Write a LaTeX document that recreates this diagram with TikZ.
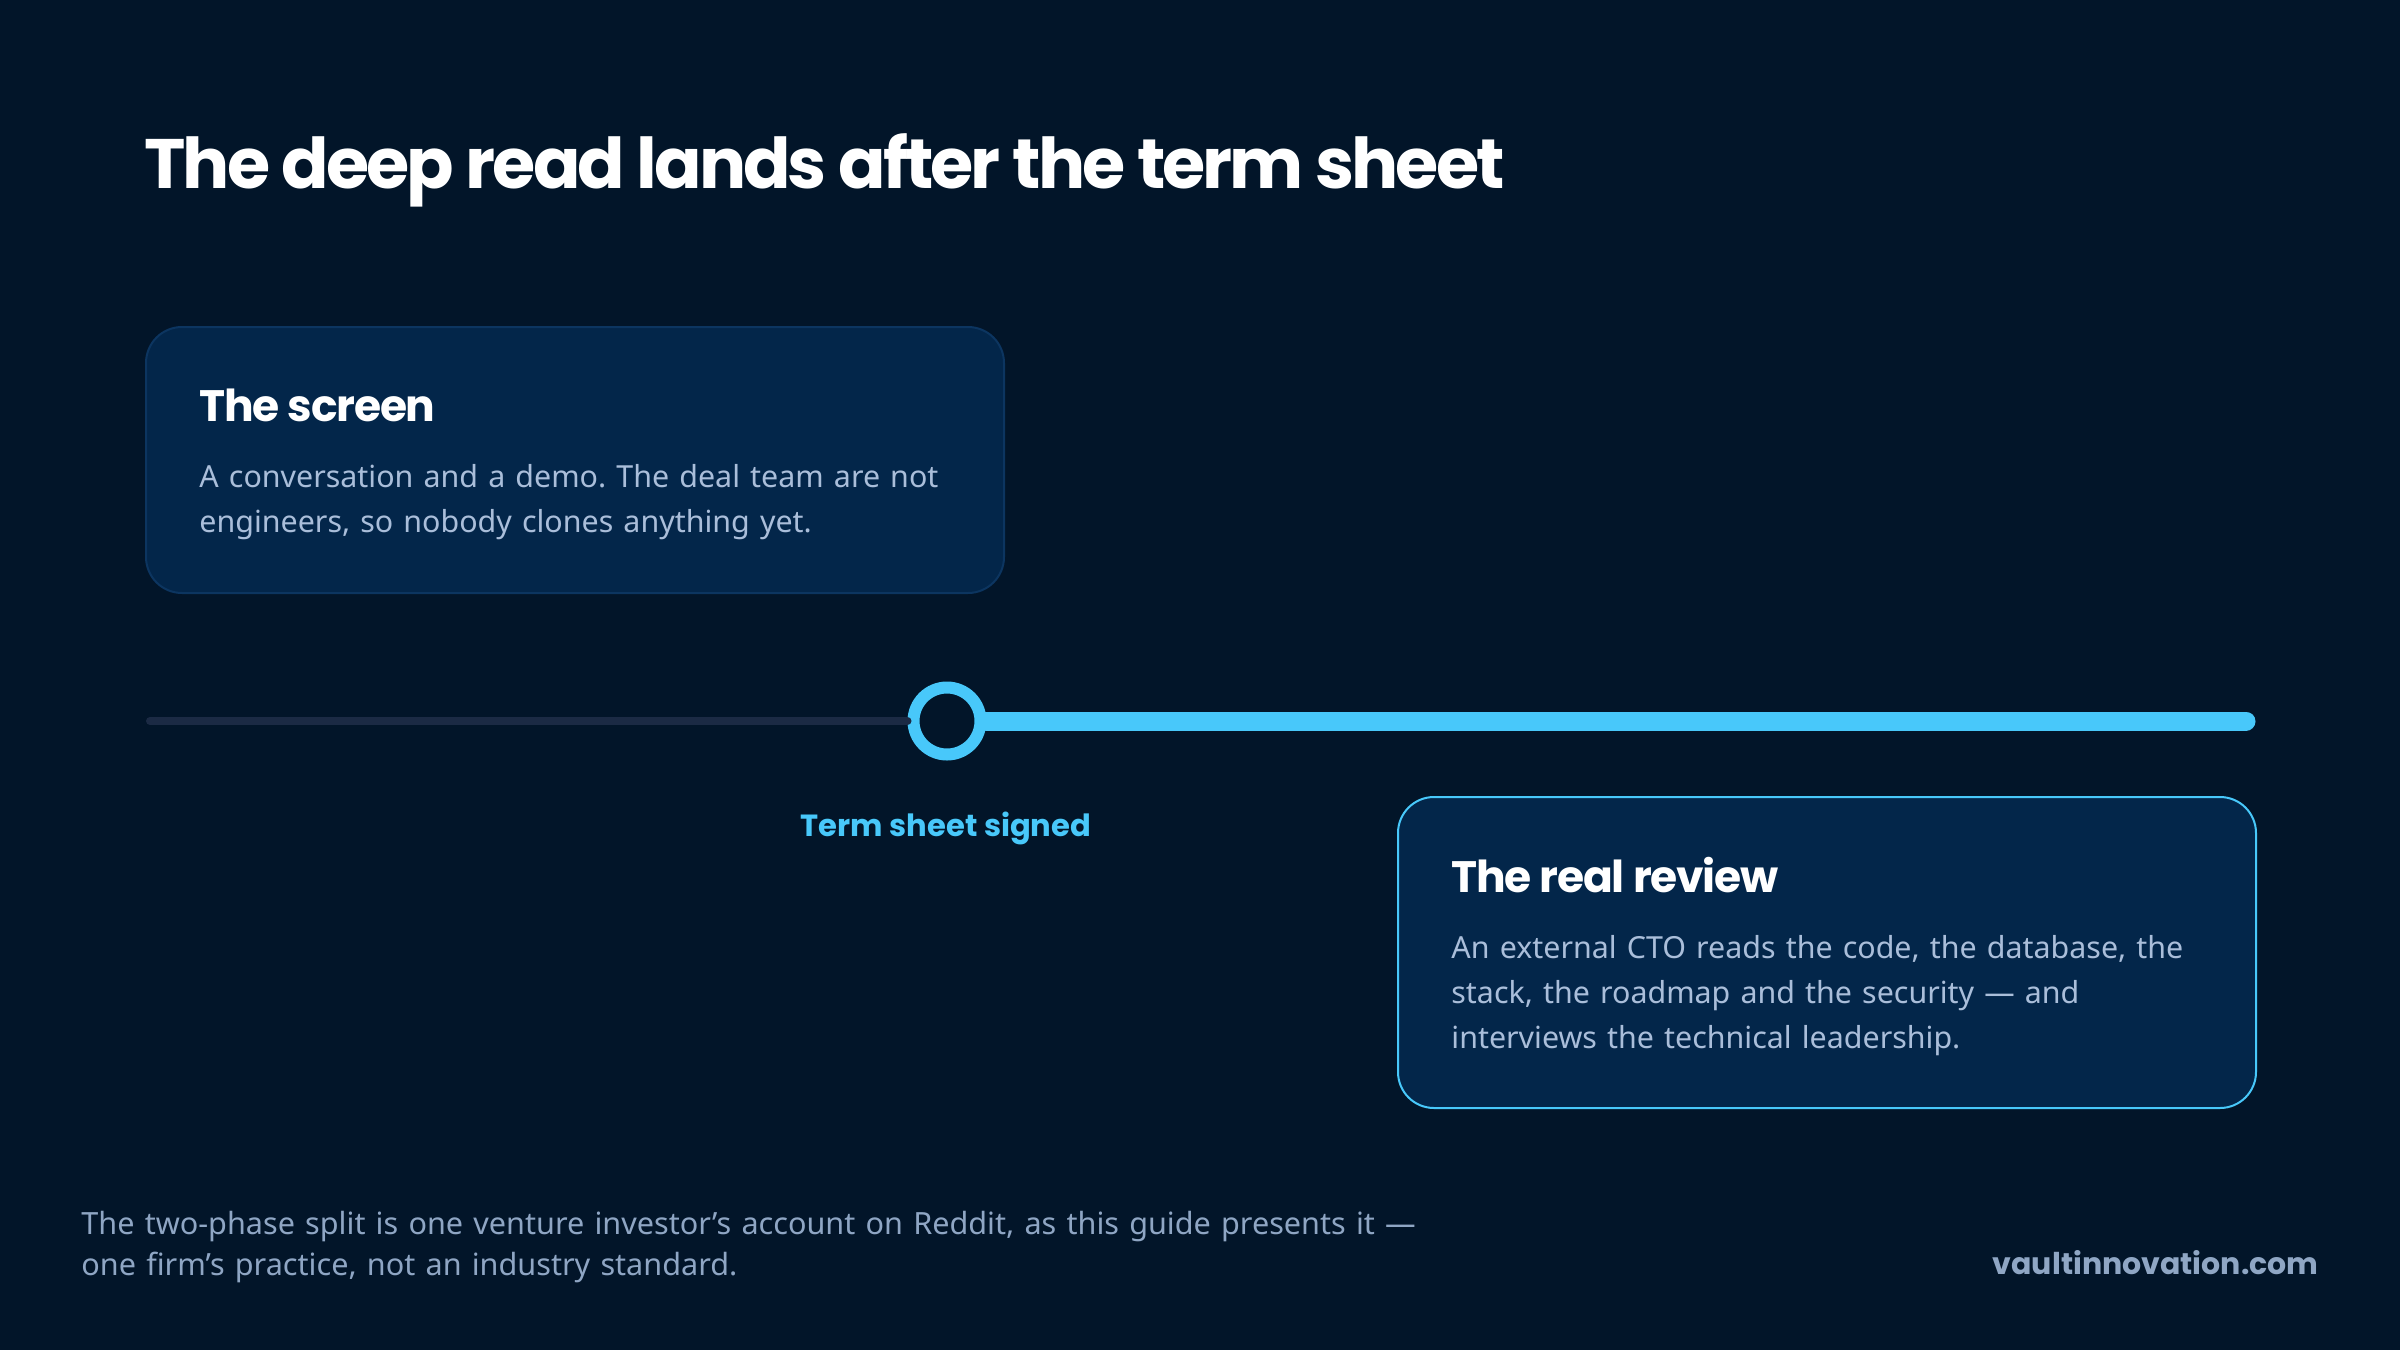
\documentclass[tikz,border=0pt]{standalone}
\usepackage{fontspec}
\setmainfont{Noto Sans}
\newfontfamily\headfont{Poppins}
\newfontfamily\titlefont{Poppins}[LetterSpace=-4.3]
\newfontfamily\cardheadfont{Poppins}[LetterSpace=-2.8]
\usetikzlibrary{positioning}
\frenchspacing

\definecolor{bgnavy}{HTML}{021529}
\definecolor{cardfill}{HTML}{03264A}
\definecolor{cardedge}{HTML}{0C3560}
\definecolor{accent}{HTML}{48C8FA}
\definecolor{track}{HTML}{1B2A44}
\definecolor{bodytext}{HTML}{AABEDA}
\definecolor{notetext}{HTML}{8FA6C4}

\tikzset{
    card/.style={rectangle, rounded corners=18pt, fill=cardfill, draw=cardedge,
        line width=1pt, anchor=north west, inner sep=0pt},
    cardhead/.style={anchor=base west, inner sep=0pt, text=white,
        font=\cardheadfont\bfseries\fontsize{22}{26}\selectfont},
    cardbody/.style={anchor=base west, inner sep=0pt, text=bodytext, align=left,
        text width=405pt, font=\fontsize{15.2}{22.5}\selectfont},
}

\begin{document}
\begin{tikzpicture}[x=0.5pt, y=-0.5pt]

    \fill[bgnavy] (0,0) rectangle (2400,1350);
    \useasboundingbox (0,0) rectangle (2400,1350);

    % Title
    \node[anchor=base west, inner sep=0pt, text=white,
        font=\titlefont\bfseries\fontsize{35}{40}\selectfont] (title) at (144,188)
        {The deep read lands after the term sheet};

    % Before the term sheet
    \node[card, minimum width=429pt, minimum height=133pt] (screen) at (145,326) {};
    \node[cardhead] (screenhead) at (199,421) {The screen};
    \node[cardbody] (screenbody) at (199,487)
        {A conversation and a demo. The deal team are not\\
         engineers, so nobody clones anything yet.};

    % Timeline
    \coordinate (tlstart) at (150,721);
    \coordinate (tlend) at (2246,721);
    \node[circle, draw=accent, fill=bgnavy, line width=6pt, minimum size=33.5pt,
        inner sep=0pt] (signed) at (947,721) {};
    \draw[track, line width=4pt, line cap=round] (tlstart) -- (signed.west);
    \draw[accent, line width=9.5pt, line cap=round] (signed.east) -- (tlend);
    \node[anchor=base, inner sep=0pt, text=accent,
        font=\headfont\bfseries\fontsize{15.3}{18}\selectfont] (signedlabel) at (946,836)
        {Term sheet signed};

    % After the term sheet
    \node[card, draw=accent, minimum width=429pt, minimum height=155.5pt] (review) at (1397,796) {};
    \node[cardhead] (reviewhead) at (1451,892) {The real review};
    \node[cardbody] (reviewbody) at (1451,958)
        {An external CTO reads the code, the database, the\\
         stack, the roadmap and the security — and\\
         interviews the technical leadership.};

    % Footer
    \node[anchor=base west, inner sep=0pt, text=notetext, align=left, text width=900pt,
        font=\fontsize{15.3}{20.5}\selectfont] (note) at (81,1234)
        {The two-phase split is one venture investor’s account on Reddit, as this guide presents it —\\
         one firm’s practice, not an industry standard.};
    \node[anchor=base east, inner sep=0pt, text=notetext,
        font=\headfont\bfseries\fontsize{15}{18}\selectfont] (site) at (2319,1274)
        {vaultinnovation.com};

\end{tikzpicture}
\end{document}
